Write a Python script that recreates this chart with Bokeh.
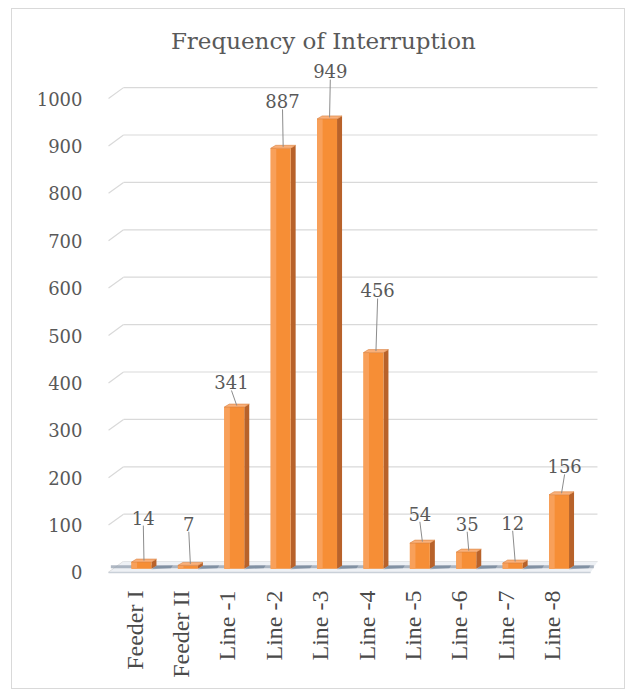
import math

from bokeh.plotting import figure
from bokeh.models import Range1d, FixedTicker
from bokeh.core.properties import value
from bokeh.embed import file_html
from bokeh.resources import INLINE

# ---- data ----
categories = ["Feeder I", "Feeder II", "Line -1", "Line -2", "Line -3",
              "Line -4", "Line -5", "Line -6", "Line -7", "Line -8"]
interruptions = [14, 7, 341, 887, 949, 456, 54, 35, 12, 156]
y_ticks = [0, 100, 200, 300, 400, 500, 600, 700, 800, 900, 1000]
chart_title = "Frequency of Interruption"

# ---- data-label placement (lift above bar top in value units, sideways nudge in slots) ----
label_lift = [102, 96, 60, 107, 108, 139, 70, 68, 93, 68]
label_nudge = [0.04, 0.02, -0.06, 0.04, 0.07, 0.09, 0.0, 0.02, 0.0, 0.12]

# ---- 3-D styling constants ----
BAR_SHIFT = 0.15      # bars sit a little right of their category label
HALF_W = 0.215        # half width of the bar's front face (slot units)
DEPTH_X = 0.108       # side-face depth, horizontal (slot units)
DEPTH_Y = 6.3         # side-face depth, vertical (value units)
BASE = 8              # front face base above the floor's front edge
WALL = 23             # back wall lift of the gridlines
GRID_L, GRID_R, STUB_L = -0.237, 9.978, -0.56

FRONT = "#F68E36"
SIDE = "#B8622A"
TOP = "#F9B07A"
TEXT = "#595959"
SERIF = "DejaVu Serif"

p = figure(width=614, height=681, output_backend="svg", toolbar_location=None,
           x_range=Range1d(-0.733, 10.151), y_range=Range1d(-16.9, 1164.6),
           min_border_left=88, min_border_right=21, min_border_top=11,
           min_border_bottom=110)
p.styles = {"margin-left": "11px", "margin-top": "8px", "border": "1px solid #d9d9d9"}
p.background_fill_color = "white"
p.border_fill_color = "white"
p.outline_line_color = None
p.xgrid.visible = False
p.ygrid.visible = False

# back-wall gridlines with a short slanted side-wall stub
p.segment(x0=[GRID_L] * len(y_ticks), y0=[t + WALL for t in y_ticks],
          x1=[GRID_R] * len(y_ticks), y1=[t + WALL for t in y_ticks],
          line_color="#d9d9d9", line_width=1.2)
p.segment(x0=[STUB_L] * len(y_ticks), y0=y_ticks,
          x1=[GRID_L] * len(y_ticks), y1=[t + WALL for t in y_ticks],
          line_color="#d9d9d9", line_width=1.2)

# floor
p.patch(x=[STUB_L, 9.83, GRID_R, GRID_L], y=[0, 0, WALL, WALL],
        fill_color="#eef1f5", line_color=None)
p.segment(x0=[STUB_L + 0.05], y0=[12], x1=[9.9], y1=[12],
          line_color="#8e9bab", line_width=3, line_alpha=0.7)
p.segment(x0=[STUB_L], y0=[0], x1=[9.83], y1=[0],
          line_color="#c9d0d8", line_width=1.5)

n = len(categories)
centers = [i + BAR_SHIFT for i in range(n)]

# shadows on the floor to the right of each bar
p.patches(xs=[[c + HALF_W, c + HALF_W + 0.42, c + HALF_W + 0.46, c + HALF_W + DEPTH_X]
              for c in centers],
          ys=[[BASE - 1, BASE + 1, BASE + 7, BASE + DEPTH_Y] for c in centers],
          fill_color="#5f738a", fill_alpha=0.55, line_color=None)

# side faces
p.patches(xs=[[c + HALF_W, c + HALF_W + DEPTH_X, c + HALF_W + DEPTH_X, c + HALF_W]
              for c in centers],
          ys=[[BASE, BASE + DEPTH_Y, BASE + v + DEPTH_Y, BASE + v]
              for v in interruptions],
          fill_color=SIDE, line_color=None)
# front faces
p.quad(left=[c - HALF_W for c in centers], right=[c + HALF_W for c in centers],
       bottom=[BASE] * n, top=[BASE + v for v in interruptions],
       fill_color=FRONT, line_color=None)
p.quad(left=[c - HALF_W for c in centers], right=[c - HALF_W + 0.12 for c in centers],
       bottom=[BASE] * n, top=[BASE + v for v in interruptions],
       fill_color="#F8A05A", line_color=None)
# top faces
p.patches(xs=[[c - HALF_W, c - HALF_W + DEPTH_X, c + HALF_W + DEPTH_X, c + HALF_W]
              for c in centers],
          ys=[[BASE + v, BASE + v + DEPTH_Y, BASE + v + DEPTH_Y, BASE + v]
              for v in interruptions],
          fill_color=TOP, line_color="#D9813F", line_width=0.6)

# data labels with leader lines
lab_x = [c + d for c, d in zip(centers, label_nudge)]
lab_y = [v + l for v, l in zip(interruptions, label_lift)]
p.segment(x0=lab_x, y0=[y - 17 for y in lab_y],
          x1=[c + DEPTH_X / 2 for c in centers],
          y1=[BASE + v + DEPTH_Y / 2 for v in interruptions],
          line_color="#8c8c8c", line_width=1)
p.text(x=lab_x, y=lab_y, text=[str(v) for v in interruptions],
       text_font=value(SERIF), text_font_size="18px", text_color=TEXT,
       text_align="center", text_baseline="middle")

# title
p.text(x=[4.07], y=[1122], text=[chart_title], text_font=value(SERIF),
       text_font_size="23px", text_color=TEXT, text_align="center",
       text_baseline="middle")

# axes
p.yaxis.ticker = FixedTicker(ticks=y_ticks)
p.yaxis.axis_line_color = None
p.yaxis.major_tick_line_color = None
p.yaxis.minor_tick_line_color = None
p.yaxis.major_label_standoff = 12
p.yaxis.major_label_text_font = SERIF
p.yaxis.major_label_text_font_size = "18px"
p.yaxis.major_label_text_color = TEXT

p.xaxis.ticker = FixedTicker(ticks=list(range(n)))
p.xaxis.major_label_overrides = {i: name for i, name in enumerate(categories)}
p.xaxis.major_label_orientation = math.pi / 2
p.xaxis.axis_line_color = None
p.xaxis.major_tick_line_color = None
p.xaxis.minor_tick_line_color = None
p.xaxis.major_label_standoff = 4
p.xaxis.major_label_text_font = "Liberation Serif"
p.xaxis.major_label_text_font_size = "24px"
p.xaxis.major_label_text_color = "#4a4a4a"

open("out.html", "w").write(file_html(p, INLINE))
